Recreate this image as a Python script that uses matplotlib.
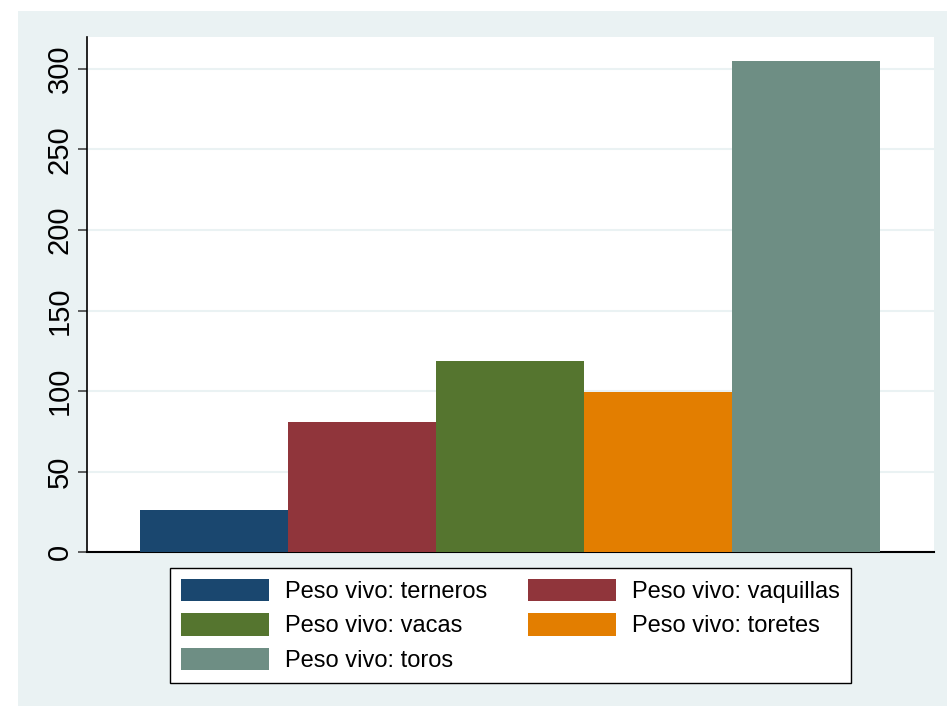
import matplotlib
matplotlib.use("Agg")
import matplotlib.pyplot as plt
from matplotlib.patches import Rectangle

plt.rcParams['font.family'] = ['Liberation Sans', 'DejaVu Sans']

labels = ["Peso vivo: terneros", "Peso vivo: vaquillas", "Peso vivo: vacas",
          "Peso vivo: toretes", "Peso vivo: toros"]
values = [26.2, 80.6, 118.7, 99.3, 304.6]
colors = ["#1a476f", "#90353b", "#55752f", "#e37e00", "#6e8e84"]
yticks = [0, 50, 100, 150, 200, 250, 300]

W, H = 947, 706
fig = plt.figure(figsize=(W / 100, H / 100), dpi=100, facecolor="white")
bg = "#eaf2f3"
fig.patches.append(Rectangle((18 / W, 0), 1, 1 - 11 / H, transform=fig.transFigure,
                             facecolor=bg, edgecolor="none", zorder=-10))

left, right, top, bottom = 87, 934, 37, 552.3
ax = fig.add_axes([left / W, 1 - bottom / H, (right - left) / W, (bottom - top) / H])
ax.set_facecolor("white")

handles = []
for i, (lab, v, c) in enumerate(zip(labels, values, colors)):
    b = ax.bar(i, v, width=1.0, color=c, edgecolor="none", label=lab, zorder=3)
    handles.append(b)

ax.set_xlim(-0.86, 4.863)
ax.set_ylim(0, 319.7)
ax.set_yticks(yticks)
ax.set_yticklabels([str(t) for t in yticks], rotation=90, va="center")
ax.set_xticks([])
ax.yaxis.grid(True, color=bg, linewidth=1.5, zorder=0)
ax.set_axisbelow(True)
for s in ["top", "right"]:
    ax.spines[s].set_visible(False)
ax.spines["left"].set_linewidth(1.2)
ax.spines["bottom"].set_linewidth(1.5)
ax.tick_params(axis="y", length=6.5, width=1.2, color="#444444", labelsize=21, pad=3)

# row-major legend order (2 columns)
order = [0, 2, 4, 1, 3]
leg = fig.legend(handles=[handles[i] for i in order], labels=[labels[i] for i in order],
                 ncol=2, loc="upper center",
                 bbox_to_anchor=(510.5 / W, 1 - 568 / H), fontsize=17,
                 frameon=True, fancybox=False, shadow=False, edgecolor="black",
                 facecolor="white", framealpha=1, handlelength=3.73, handleheight=1.1,
                 handletextpad=0.7, labelspacing=0.43, columnspacing=1.7,
                 borderpad=0.45, borderaxespad=0)
leg.get_frame().set_linewidth(1.0)

fig.savefig("out.png", dpi=100, facecolor="white")
